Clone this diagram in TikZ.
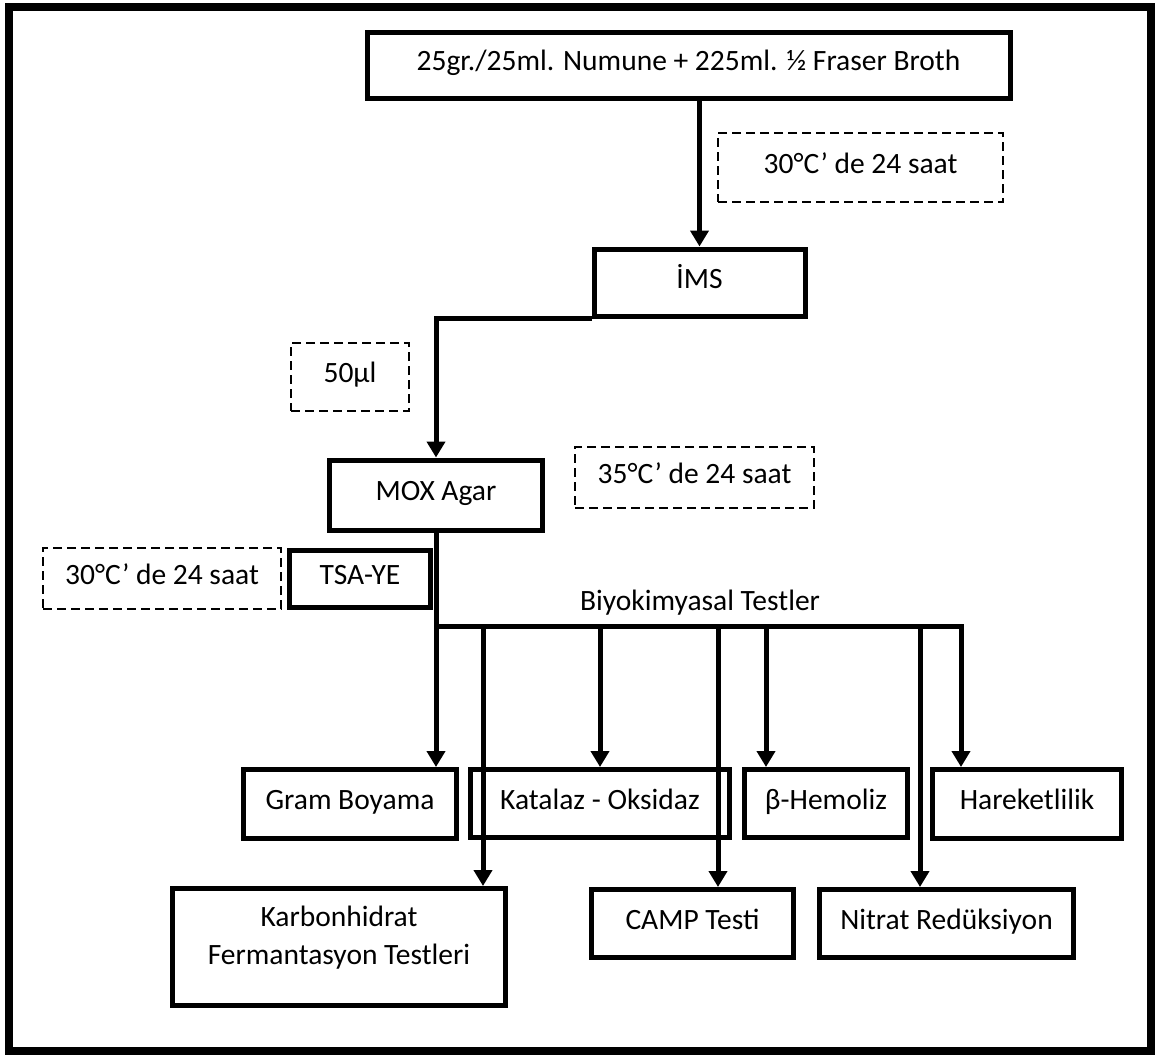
\documentclass[tikz,border=0pt]{standalone}
\usepackage{fontspec}
\setmainfont{Carlito}
\usepackage{tikz}
\usetikzlibrary{arrows.meta}
\tikzset{>={Triangle[width=18pt,length=16pt]}}
\tikzset{
  box/.style={draw, line width=5pt, inner sep=0pt, align=center, text height=20pt, text depth=9pt},
  dbox/.style={draw, line width=2pt, dash pattern=on 9pt off 5pt, inner sep=0pt, text height=20pt, text depth=9pt},
}

\begin{document}
\begin{tikzpicture}[x=1pt, y=-1pt, line width=5pt, font=\fontsize{29.5}{38}\selectfont]
    \useasboundingbox (0,0) rectangle (1158,1055);
    % frame
    \draw[line width=8pt] (9,7) rectangle (1151,1051);

    %sample
    \draw (688.5,65) node[box, minimum width=643, minimum height=66] (numune) {25gr./25ml. Numune + 225ml. ½ Fraser Broth};
    \draw (860.5,167.5) node[dbox, minimum width=285, minimum height=69] (inkub1) {30°C’ de 24 saat};

    %IMS
    \draw (699.5,282.5) node[box, minimum width=211, minimum height=67] (ims) {İMS};
    \draw (350,377) node[dbox, minimum width=118, minimum height=68] (hacim) {50µl};

    %MOX
    \draw (436,495) node[box, minimum width=213, minimum height=70] (mox) {MOX Agar};
    \draw (694.5,477.5) node[dbox, minimum width=239, minimum height=61] (inkub2) {35°C’ de 24 saat};

    %TSA-YE
    \draw (360,578.5) node[box, minimum width=141, minimum height=57] (tsa) {TSA-YE};
    \draw (162,578.5) node[dbox, minimum width=238, minimum height=61] (inkub3) {30°C’ de 24 saat};

    %tests
    \draw (700,603) node (biyo) {Biyokimyasal Testler};
    \draw (350,804) node[box, minimum width=213, minimum height=69] (gram) {Gram Boyama};
    \draw (600,803.5) node[box, minimum width=259, minimum height=68] (katalaz) {Katalaz - Oksidaz};
    \draw (826,803.5) node[box, minimum width=163, minimum height=68] (hemoliz) {β-Hemoliz};
    \draw (1027,804) node[box, minimum width=189, minimum height=69] (hareket) {Hareketlilik};
    \draw (339,947) node[box, text height=, text depth=, minimum width=333, minimum height=117] (karbon) {Karbonhidrat\\Fermantasyon Testleri\\[-14pt]};
    \draw (692.5,923.5) node[box, minimum width=202, minimum height=68] (camp) {CAMP Testi};
    \draw (946.5,923.5) node[box, minimum width=254, minimum height=68] (nitrat) {Nitrat Redüksiyon};

    % bus
    \coordinate (bus) at (436,626);
    \coordinate (k1) at (483,626);
    \coordinate (k2) at (600,626);
    \coordinate (k3) at (718,626);
    \coordinate (k4) at (766,626);
    \coordinate (k5) at (920,626);
    \coordinate (k6) at (961,626);

    % arrows
    \draw[->] (numune.south -| ims.north) -- (ims.north);
    \draw[->] (ims.south west) -| (mox.north);
    \draw[->] (mox.south) -- (mox.south |- gram.north);
    \draw[->] (bus) -| (k6 |- hareket.north);
    \draw[->] (k1) -- (k1 |- karbon.north);
    \draw[->] (k2) -- (k2 |- katalaz.north);
    \draw[->] (k3) -- (k3 |- camp.north);
    \draw[->] (k4) -- (k4 |- hemoliz.north);
    \draw[->] (k5) -- (k5 |- nitrat.north);
\end{tikzpicture}
\end{document}
